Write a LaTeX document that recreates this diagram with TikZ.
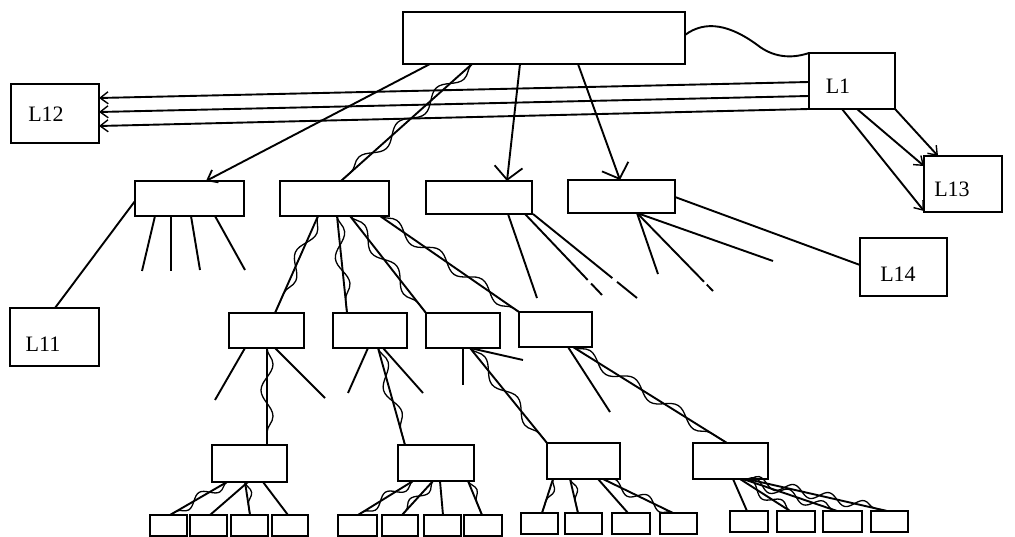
\documentclass[tikz,border=0pt]{standalone}
\usepackage{fontspec}
\setmainfont{Liberation Serif}
\usetikzlibrary{arrows.meta,decorations.pathmorphing,calc}
\newcommand\mkbox[5]{\node[box, minimum width={#4-#2}, minimum height={#5-#3}] (#1) at ({(#2+#4)/2},{(#3+#5)/2}) {};}
\begin{document}
\begin{tikzpicture}[x=1pt,y=-1pt,
  box/.style={draw, line width=2.2pt, inner sep=0pt, outer sep=0pt},
  ln/.style={line width=1.9pt},
  wavy/.style={line width=1.9pt, postaction={draw, line width=1.3pt, decorate, decoration={snake, amplitude=6pt, segment length=52pt}}},
  wavys/.style={line width=1.9pt, postaction={draw, line width=1.3pt, decorate, decoration={snake, amplitude=5pt, segment length=36pt}}},
  lab/.style={font=\fontsize{22}{22}\selectfont, inner sep=0pt},
  bigarr/.style={-{Straight Barb[length=13pt,width=28pt,line width=1.8pt]}},
  smarr/.style={-{Straight Barb[length=8pt,width=12pt,line width=1.4pt]}}]
\useasboundingbox (0,0) rectangle (1015,537);
% boxes
\mkbox{T}{403}{12}{685}{64}
\mkbox{L1}{809}{53}{895}{109}
\mkbox{L12}{11}{84}{99}{143}
\mkbox{L13}{924}{156}{1002}{212}
\mkbox{L14}{860}{238}{947}{296}
\mkbox{L11}{10}{308}{99}{366}
\mkbox{A}{135}{181}{244}{216}
\mkbox{B}{280}{181}{389}{216}
\mkbox{C}{426}{181}{532}{214}
\mkbox{D}{568}{180}{675}{213}
\mkbox{E}{229}{313}{304}{348}
\mkbox{F}{333}{313}{407}{348}
\mkbox{G}{426}{313}{500}{348}
\mkbox{H}{519}{312}{592}{347}
\mkbox{I}{212}{445}{287}{482}
\mkbox{J}{398}{445}{474}{481}
\mkbox{K}{547}{443}{620}{479}
\mkbox{M}{693}{443}{768}{479}
\mkbox{I1}{150}{515}{187}{536}
\mkbox{I2}{190}{515}{227}{536}
\mkbox{I3}{231}{515}{268}{536}
\mkbox{I4}{272}{515}{308}{536}
\mkbox{J1}{338}{515}{377}{536}
\mkbox{J2}{382}{515}{418}{536}
\mkbox{J3}{424}{515}{461}{536}
\mkbox{J4}{464}{515}{502}{536}
\mkbox{K1}{521}{513}{558}{534}
\mkbox{K2}{565}{513}{602}{534}
\mkbox{K3}{612}{513}{650}{534}
\mkbox{K4}{660}{513}{697}{534}
\mkbox{M1}{730}{511}{768}{532}
\mkbox{M2}{777}{511}{815}{532}
\mkbox{M3}{823}{511}{862}{532}
\mkbox{M4}{871}{511}{908}{532}
% labels
\node[lab] (tL1) at (838,86) {L1};
\node[lab] (tL12) at (46,114) {L12};
\node[lab] (tL13) at (952,189) {L13};
\node[lab] (tL14) at (898,274) {L14};
\node[lab] (tL11) at (43,344) {L11};
% free ends
\coordinate (a1) at (142,271);
\coordinate (a2) at (171,271);
\coordinate (a3) at (200,270);
\coordinate (a4) at (245,270);
\coordinate (c1) at (537,298);
\coordinate (c2) at (602,295);
\coordinate (c3) at (637,298);
\coordinate (d1) at (658,274);
\coordinate (d2) at (713,291);
\coordinate (d3) at (773,261);
\coordinate (e1) at (215,400);
\coordinate (e2) at (325,398);
\coordinate (f1) at (348,393);
\coordinate (f2) at (423,393);
\coordinate (g1) at (463,385);
\coordinate (g2) at (523,360);
\coordinate (h1) at (610,412);
% top level
\draw[ln, -{Straight Barb[length=9pt,width=14pt,line width=1.8pt]}] (T.south -| 430,0) -- (A.north -| 206,0);
\draw[ln, bigarr] (T.south -| 520,0) -- (C.north -| 507,0);
\draw[ln, bigarr] (T.south -| 578,0) -- (D.north -| 620,0);
\draw[wavy] (T.south -| 472,0) -- (B.north -| 341,0);
\draw[ln] (T.east |- 0,35) .. controls (705,20) and (730,24) .. (760,47) .. controls (780,61) and (800,56) .. (L1.north west);
% L1 to L12
\draw[ln, smarr] (L1.west |- 0,82) -- (L12.east |- 0,98);
\draw[ln, smarr] (L1.west |- 0,96) -- (L12.east |- 0,112);
\draw[ln, smarr] (L1.west |- 0,109) -- (L12.east |- 0,126);
% L1 to L13
\draw[ln, smarr] (L1.south -| 842,0) -- (L13.west |- 0,211);
\draw[ln, smarr] (L1.south -| 857,0) -- (L13.west |- 0,166);
\draw[ln, smarr] (L1.south east) -- (L13.north -| 938,0);
% A
\draw[ln] (A.west |- 0,201) -- (L11.north -| 55,0);
\draw[ln] (A.south -| 155,0) -- (a1);
\draw[ln] (A.south -| 171,0) -- (a2);
\draw[ln] (A.south -| 191,0) -- (a3);
\draw[ln] (A.south -| 215,0) -- (a4);
% C
\draw[ln] (C.south -| 508,0) -- (c1);
\draw[ln, dash pattern=on 91pt off 5pt on 40pt] (C.south -| 525,0) -- (c2);
\draw[ln, dash pattern=on 102pt off 6pt on 40pt] (C.south -| 533,0) -- (c3);
% D
\draw[ln] (D.south -| 637,0) -- (d1);
\draw[ln, dash pattern=on 96pt off 4pt on 30pt] (D.south -| 637,0) -- (d2);
\draw[ln] (D.south -| 637,0) -- (d3);
\draw[ln] (D.east |- 0,197) -- (L14.west |- 0,265);
% B
\draw[wavy] (B.south -| 318,0) -- (E.north -| 275,0);
\draw[wavy] (B.south -| 337,0) -- (F.north -| 347,0);
\draw[wavy] (B.south -| 350,0) -- (G.north west);
\draw[wavy] (B.south -| 380,0) -- (H.north west);
% E
\draw[ln] (E.south -| 245,0) -- (e1);
\draw[ln] (E.south -| 275,0) -- (e2);
\draw[wavy] (E.south -| 267,0) -- (I.north -| 267,0);
% F
\draw[ln] (F.south -| 368,0) -- (f1);
\draw[ln] (F.south -| 383,0) -- (f2);
\draw[wavy] (F.south -| 378,0) -- (J.north -| 405,0);
% G
\draw[ln] (G.south -| 463,0) -- (g1);
\draw[ln] (G.south -| 470,0) -- (g2);
\draw[wavy] (G.south -| 470,0) -- (K.north west);
% H
\draw[ln] (H.south -| 568,0) -- (h1);
\draw[wavy] (H.south -| 573,0) -- (M.north -| 727,0);
% I
\draw[wavys] (I.south -| 227,0) -- (I1.north -| 170,0);
\draw[ln] (I.south -| 248,0) -- (I2.north -| 210,0);
\draw[wavys] (I.south -| 245,0) -- (I3.north -| 250,0);
\draw[ln] (I.south -| 263,0) -- (I4.north -| 288,0);
% J
\draw[wavys] (J.south -| 413,0) -- (J1.north -| 358,0);
\draw[wavys] (J.south -| 433,0) -- (J2.north -| 402,0);
\draw[ln] (J.south -| 440,0) -- (J3.north -| 443,0);
\draw[wavys] (J.south -| 468,0) -- (J4.north -| 482,0);
% K
\draw[wavys] (K.south -| 553,0) -- (K1.north -| 542,0);
\draw[wavys] (K.south -| 570,0) -- (K2.north -| 578,0);
\draw[ln] (K.south -| 598,0) -- (K3.north -| 628,0);
\draw[wavys] (K.south -| 603,0) -- (K4.north -| 673,0);
% M
\draw[ln] (M.south -| 733,0) -- (M1.north -| 747,0);
\draw[wavys] (M.south -| 740,0) -- (M2.north -| 790,0);
\draw[wavys] (M.south -| 743,0) -- (M3.north -| 837,0);
\draw[wavys] (M.south -| 747,0) -- (M4.north -| 887,0);
\end{tikzpicture}
\end{document}
